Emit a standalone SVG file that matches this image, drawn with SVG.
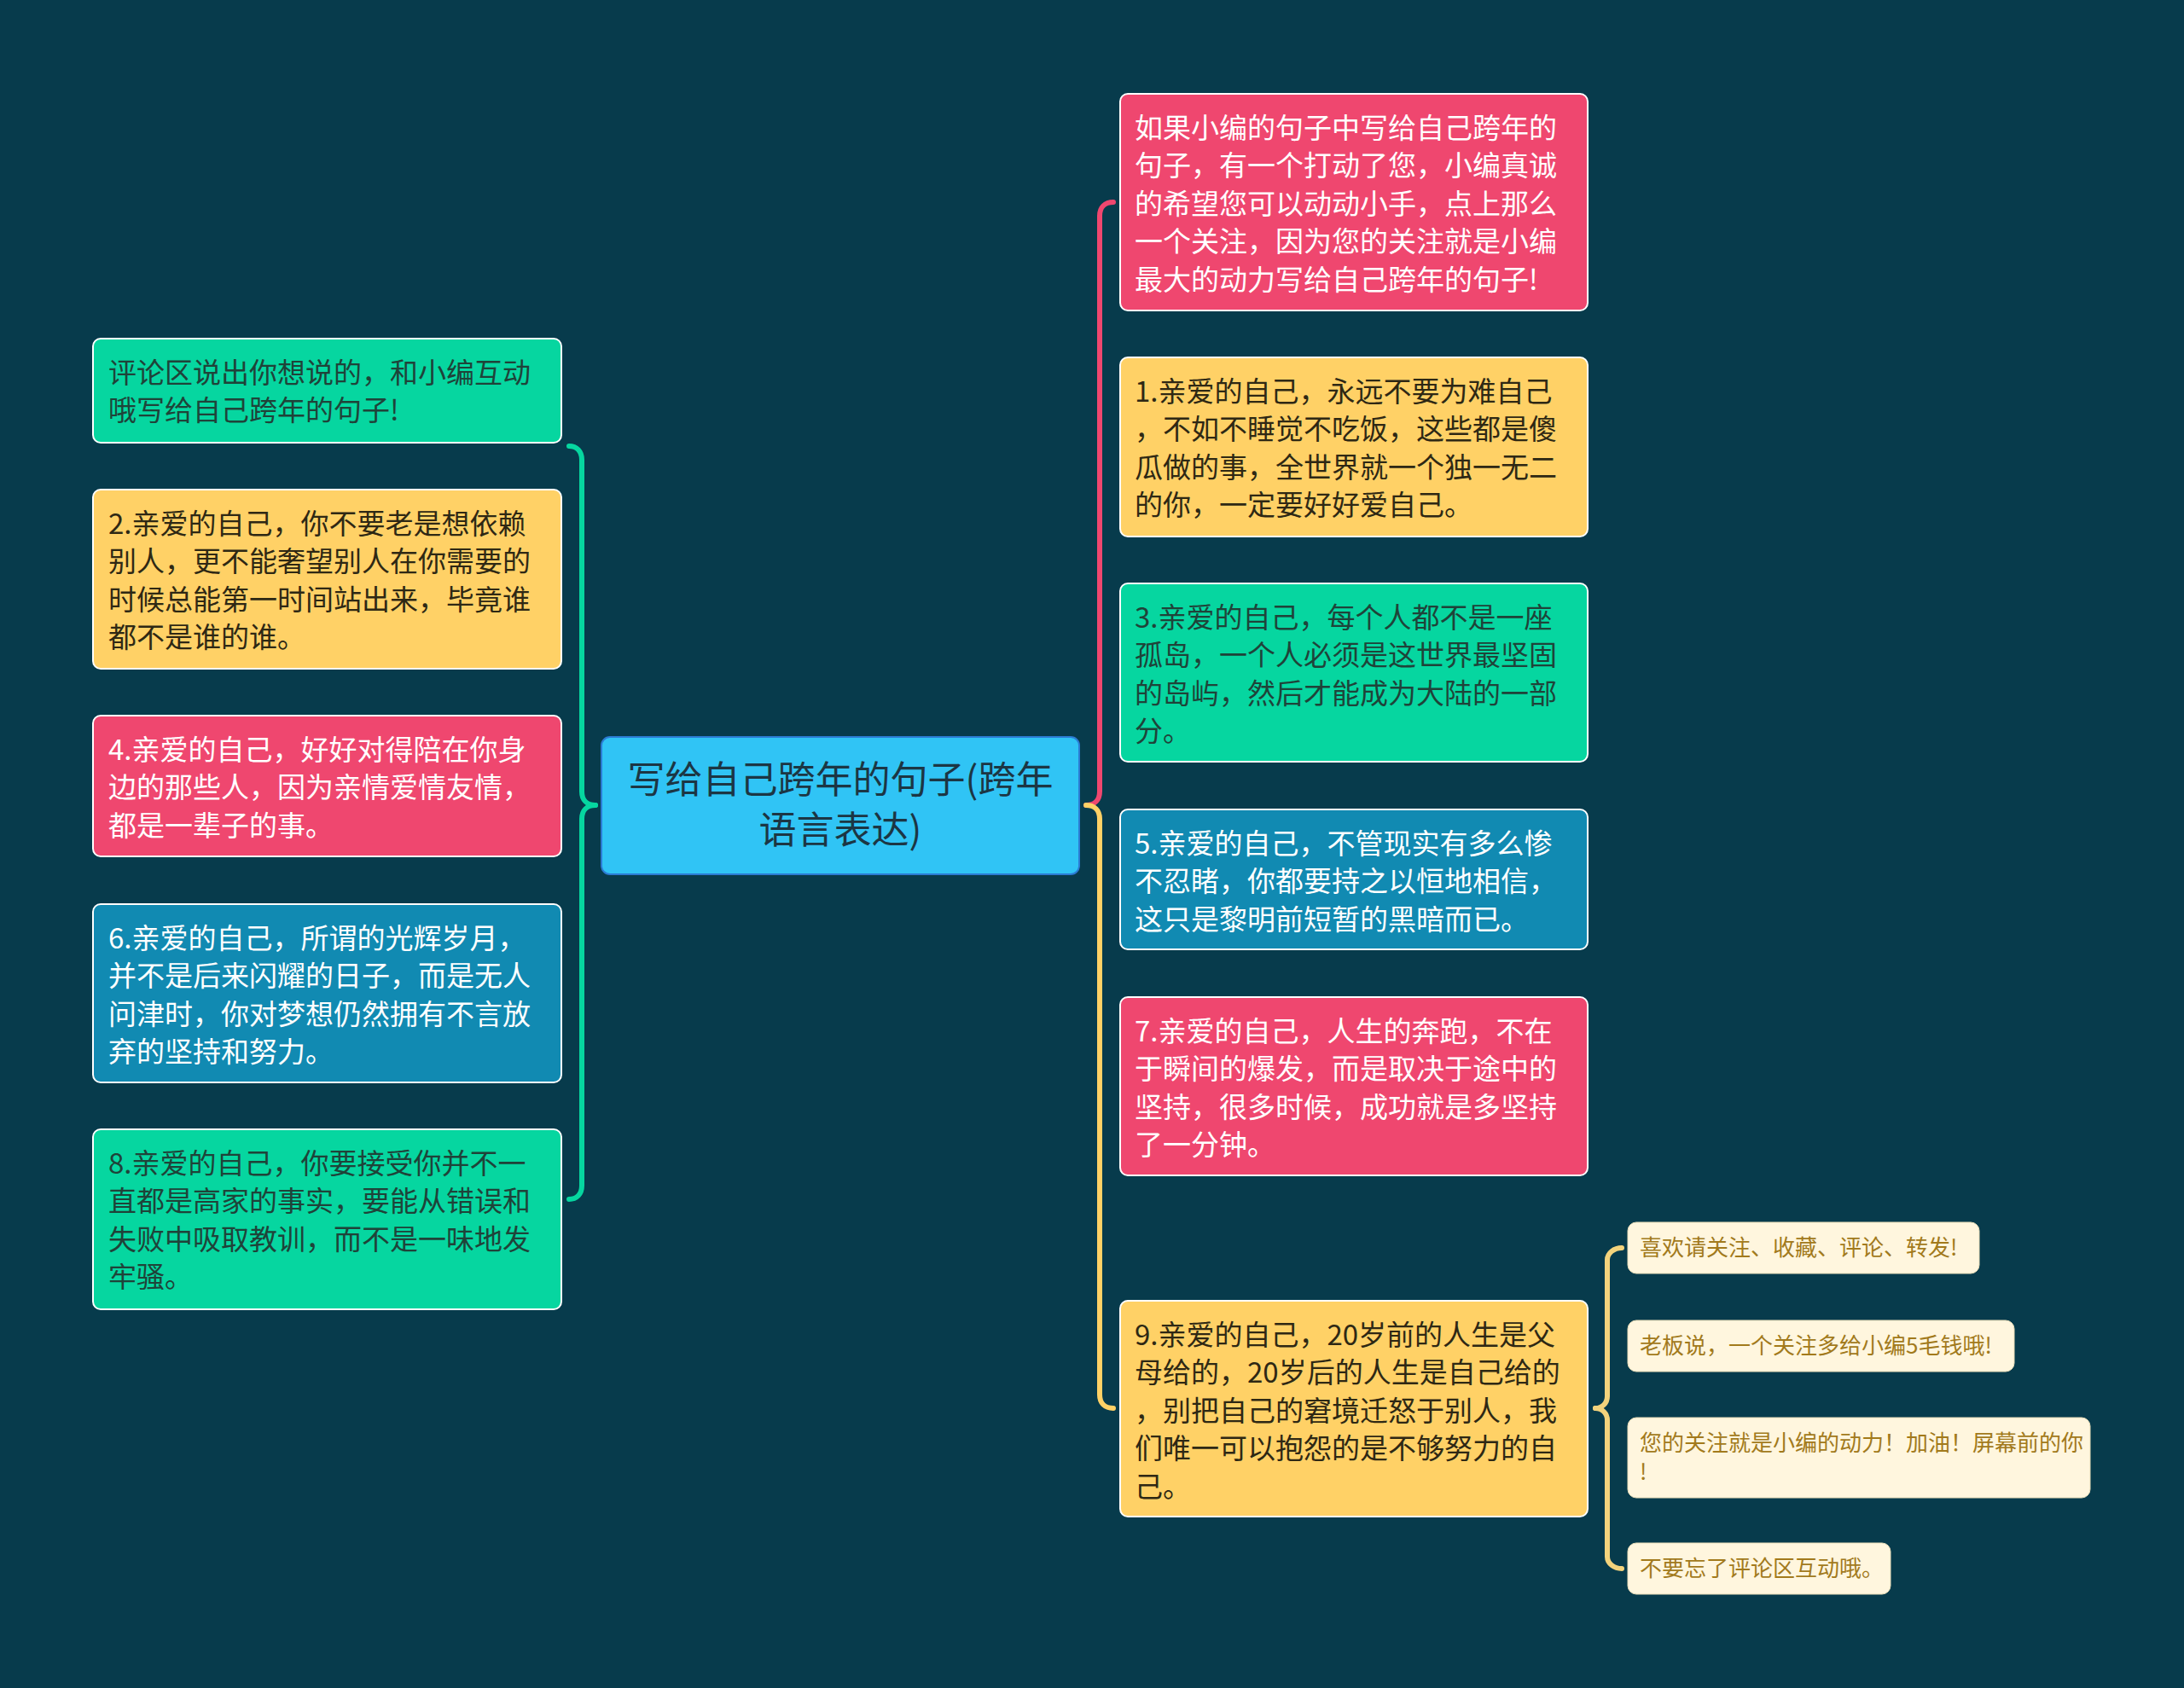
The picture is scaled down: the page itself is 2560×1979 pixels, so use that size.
<svg xmlns="http://www.w3.org/2000/svg" width="2560" height="1979" viewBox="0 0 2560 1979">
<style>
text{font-family:"Noto Sans CJK SC","Noto Sans",sans-serif;}
.t{font-size:33px;}
.w{fill:#ffffff;}
.dy{fill:#2e2814;}
.dg{fill:#1f4339;}
.n{stroke:#ffffff;stroke-width:2;}
.pink{fill:#ef476f;}
.yel{fill:#ffd166;}
.grn{fill:#06d6a0;}
.blu{fill:#118ab2;}
.sub rect{fill:#fff6de;stroke:#e9ddb8;stroke-width:1;}
.sub text{font-size:26px;fill:#a27a1c;}
.c{fill:none;stroke-width:6;stroke-linecap:round;}
</style>
<rect x="0" y="0" width="2560" height="1979" fill="#073b4c"/>
<g id="connectors">
<path class="c" stroke="#ef476f" d="M1273,944 C1283,944 1289,938 1289,928 L1289,253 C1289,243 1295,237 1305,237"/>
<path class="c" stroke="#ffd166" d="M1273,944 C1283,944 1289,950 1289,960 L1289,1635 C1289,1645 1295,1651 1305,1651"/>
<path class="c" stroke="#06d6a0" d="M698,944 C688,944 682,938 682,928 L682,539 C682,529 676,523 667,523"/>
<path class="c" stroke="#06d6a0" d="M698,944 C688,944 682,950 682,960 L682,1390 C682,1400 676,1406 667,1406"/>
<path class="c" stroke="#f3d37c" stroke-width="4" d="M1870,1651 C1878,1651 1884,1645 1884,1637 L1884,1477 C1884,1469 1892,1463 1901,1463"/>
<path class="c" stroke="#f3d37c" stroke-width="4" d="M1870,1651 C1878,1651 1884,1657 1884,1665 L1884,1825 C1884,1833 1892,1839 1901,1839"/>
</g>
<g id="center">
<rect x="705" y="864" width="560" height="161" rx="10" fill="#30c4f5" stroke="#2b7bd3" stroke-width="2"/>
<text x="985" y="930" font-size="44" fill="#1c3644" text-anchor="middle">写给自己跨年的句子(跨年</text>
<text x="985" y="989" font-size="44" fill="#1c3644" text-anchor="middle">语言表达)</text>
</g>
<g id="r0">
<rect class="n pink" x="1313" y="110" width="548" height="254" rx="9"/>
<text class="t w" x="1330" y="161.5"><tspan x="1330">如果小编的句子中写给自己跨年的</tspan><tspan x="1330" dy="44.5">句子，有一个打动了您，小编真诚</tspan><tspan x="1330" dy="44.5">的希望您可以动动小手，点上那么</tspan><tspan x="1330" dy="44.5">一个关注，因为您的关注就是小编</tspan><tspan x="1330" dy="44.5">最大的动力写给自己跨年的句子!</tspan></text>
</g>
<g id="r1">
<rect class="n yel" x="1313" y="419" width="548" height="210" rx="9"/>
<text class="t dy" x="1330" y="470.5"><tspan x="1330">1.亲爱的自己，永远不要为难自己</tspan><tspan x="1330" dy="44.5">，不如不睡觉不吃饭，这些都是傻</tspan><tspan x="1330" dy="44.5">瓜做的事，全世界就一个独一无二</tspan><tspan x="1330" dy="44.5">的你，一定要好好爱自己。</tspan></text>
</g>
<g id="r2">
<rect class="n grn" x="1313" y="684" width="548" height="209" rx="9"/>
<text class="t dg" x="1330" y="735.5"><tspan x="1330">3.亲爱的自己，每个人都不是一座</tspan><tspan x="1330" dy="44.5">孤岛，一个人必须是这世界最坚固</tspan><tspan x="1330" dy="44.5">的岛屿，然后才能成为大陆的一部</tspan><tspan x="1330" dy="44.5">分。</tspan></text>
</g>
<g id="r3">
<rect class="n blu" x="1313" y="949" width="548" height="164" rx="9"/>
<text class="t w" x="1330" y="1000.5"><tspan x="1330">5.亲爱的自己，不管现实有多么惨</tspan><tspan x="1330" dy="44.5">不忍睹，你都要持之以恒地相信，</tspan><tspan x="1330" dy="44.5">这只是黎明前短暂的黑暗而已。</tspan></text>
</g>
<g id="r4">
<rect class="n pink" x="1313" y="1169" width="548" height="209" rx="9"/>
<text class="t w" x="1330" y="1220.5"><tspan x="1330">7.亲爱的自己，人生的奔跑，不在</tspan><tspan x="1330" dy="44.5">于瞬间的爆发，而是取决于途中的</tspan><tspan x="1330" dy="44.5">坚持，很多时候，成功就是多坚持</tspan><tspan x="1330" dy="44.5">了一分钟。</tspan></text>
</g>
<g id="r5">
<rect class="n yel" x="1313" y="1525" width="548" height="253" rx="9"/>
<text class="t dy" x="1330" y="1576.5"><tspan x="1330">9.亲爱的自己，20岁前的人生是父</tspan><tspan x="1330" dy="44.5">母给的，20岁后的人生是自己给的</tspan><tspan x="1330" dy="44.5">，别把自己的窘境迁怒于别人，我</tspan><tspan x="1330" dy="44.5">们唯一可以抱怨的是不够努力的自</tspan><tspan x="1330" dy="44.5">己。</tspan></text>
</g>
<g id="l0">
<rect class="n grn" x="109" y="397" width="549" height="122" rx="9"/>
<text class="t dg" x="127" y="448.5"><tspan x="127">评论区说出你想说的，和小编互动</tspan><tspan x="127" dy="44.5">哦写给自己跨年的句子!</tspan></text>
</g>
<g id="l1">
<rect class="n yel" x="109" y="574" width="549" height="210" rx="9"/>
<text class="t dy" x="127" y="625.5"><tspan x="127">2.亲爱的自己，你不要老是想依赖</tspan><tspan x="127" dy="44.5">别人，更不能奢望别人在你需要的</tspan><tspan x="127" dy="44.5">时候总能第一时间站出来，毕竟谁</tspan><tspan x="127" dy="44.5">都不是谁的谁。</tspan></text>
</g>
<g id="l2">
<rect class="n pink" x="109" y="839" width="549" height="165" rx="9"/>
<text class="t w" x="127" y="890.5"><tspan x="127">4.亲爱的自己，好好对得陪在你身</tspan><tspan x="127" dy="44.5">边的那些人，因为亲情爱情友情，</tspan><tspan x="127" dy="44.5">都是一辈子的事。</tspan></text>
</g>
<g id="l3">
<rect class="n blu" x="109" y="1060" width="549" height="209" rx="9"/>
<text class="t w" x="127" y="1111.5"><tspan x="127">6.亲爱的自己，所谓的光辉岁月，</tspan><tspan x="127" dy="44.5">并不是后来闪耀的日子，而是无人</tspan><tspan x="127" dy="44.5">问津时，你对梦想仍然拥有不言放</tspan><tspan x="127" dy="44.5">弃的坚持和努力。</tspan></text>
</g>
<g id="l4">
<rect class="n grn" x="109" y="1324" width="549" height="211" rx="9"/>
<text class="t dg" x="127" y="1375.5"><tspan x="127">8.亲爱的自己，你要接受你并不一</tspan><tspan x="127" dy="44.5">直都是高家的事实，要能从错误和</tspan><tspan x="127" dy="44.5">失败中吸取教训，而不是一味地发</tspan><tspan x="127" dy="44.5">牢骚。</tspan></text>
</g>
<g id="s0" class="sub">
<rect x="1908" y="1433" width="412" height="60" rx="10"/>
<text x="1922" y="1472">喜欢请关注、收藏、评论、转发!</text>
</g>
<g id="s1" class="sub">
<rect x="1908" y="1548" width="453" height="60" rx="10"/>
<text x="1922" y="1587">老板说，一个关注多给小编5毛钱哦!</text>
</g>
<g id="s2" class="sub">
<rect x="1908" y="1662" width="542" height="94" rx="10"/>
<text x="1922" y="1701"><tspan x="1922">您的关注就是小编的动力！加油！屏幕前的你</tspan><tspan x="1922" dy="34">!</tspan></text>
</g>
<g id="s3" class="sub">
<rect x="1908" y="1809" width="308" height="60" rx="10"/>
<text x="1922" y="1848">不要忘了评论区互动哦。</text>
</g>
</svg>
